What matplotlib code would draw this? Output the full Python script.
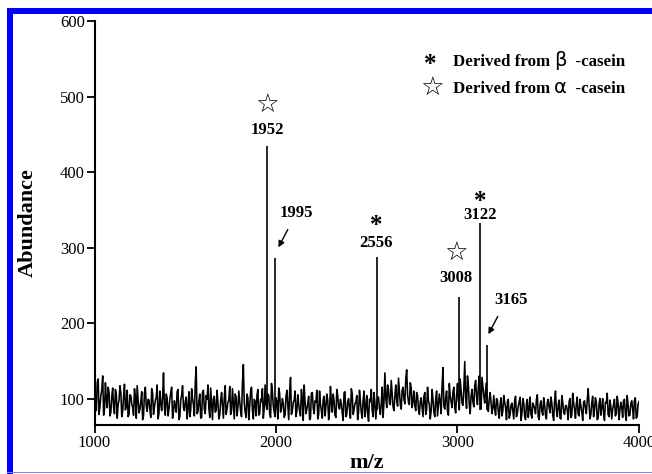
import numpy as np
import matplotlib
matplotlib.use('Agg')
import matplotlib.pyplot as plt
from matplotlib.patches import Rectangle

plt.rcParams['font.family'] = ['Liberation Serif', 'DejaVu Serif']

noise_a = [
    118, 84, 126, 90, 112, 78, 121, 88, 108, 82,
    114, 80, 106, 92, 117, 76, 103, 85, 111, 79,
    104, 88, 113, 74, 100, 86, 109, 77, 115, 83,
    98, 75, 107, 89, 102, 73, 110, 84, 134, 78,
    101, 86, 108, 74, 97, 82, 112, 76, 104, 88,
    96, 73, 109, 85, 100, 77, 142, 83, 106, 75,
    111, 80, 99, 87, 114, 72, 103, 84, 95, 78,
    108, 74, 117, 86, 98, 79, 113, 73, 102, 88,
    97, 76, 145, 82, 106, 72, 110, 85, 99, 77,
    112, 80, 96, 74, 118, 86, 104, 75, 109, 82,
    101, 73, 107, 87, 94, 78, 111, 72, 128, 84,
    98, 76, 105, 83, 112, 71, 96, 86, 103, 74,
    108, 80, 95, 73, 110, 84, 99, 77, 106, 72,
    116, 82, 97, 75, 104, 86, 93, 71, 109, 79,
    100, 74, 107, 85, 95, 72, 111, 81, 98, 76,
    104, 70, 96, 84, 108, 73, 101, 87, 93, 75,
    134, 88, 112, 92, 106, 84, 118, 90, 109, 86,
    115, 93, 138, 95, 121, 88, 110, 84, 104, 79,
    101, 76, 108, 85, 97, 73, 112, 82, 99, 77,
    106, 80, 141, 86, 110, 78, 103, 88, 115, 81,
    120, 85, 109, 91, 149, 87, 118, 80, 112, 89,
    124, 92, 130, 86, 116, 94, 121, 83, 108, 80,
    104, 78, 98, 74, 101, 84, 95, 72, 99, 79,
    94, 73, 103, 81, 96, 71, 100, 77, 93, 75,
    102, 74, 91, 80, 105, 72, 97, 78, 92, 73,
    99, 81, 94, 71, 110, 76, 98, 73, 95, 79,
    91, 72, 100, 78, 94, 74, 102, 77, 90, 71,
    97, 80, 113, 73, 95, 76, 101, 72, 93, 78,
    100, 71, 94, 79, 98, 73, 92, 77, 103, 72,
    95, 75, 99, 71, 92, 78, 97, 73, 101, 76,
    96,
]
# ... and at m/z 1005, 1015, ..., 3995
noise_b = [
    95, 122, 79, 104, 130, 86, 99, 115, 77, 103,
    89, 112, 74, 98, 108, 83, 119, 91, 76, 105,
    93, 78, 102, 117, 81, 96, 72, 107, 90, 99,
    85, 113, 79, 97, 118, 80, 93, 102, 88, 106,
    77, 99, 115, 83, 90, 109, 72, 98, 117, 84,
    102, 88, 76, 113, 92, 120, 80, 97, 74, 108,
    86, 104, 118, 75, 93, 100, 82, 111, 73, 97,
    90, 102, 79, 95, 116, 84, 92, 106, 77, 110,
    83, 121, 94, 75, 101, 89, 115, 73, 96, 104,
    78, 99, 113, 87, 92, 106, 81, 120, 90, 76,
    96, 114, 82, 100, 75, 103, 91, 109, 79, 95,
    110, 84, 93, 77, 101, 118, 80, 94, 72, 107,
    88, 97, 111, 79, 92, 74, 103, 89, 98, 83,
    94, 106, 78, 112, 89, 99, 81, 108, 76, 96,
    86, 113, 79, 93, 104, 82, 97, 74, 110, 88,
    80, 99, 112, 76, 94, 90, 102, 79, 115, 96,
    101, 118, 94, 124, 89, 103, 98, 127, 92, 111,
    99, 126, 105, 92, 114, 97, 90, 108, 86, 96,
    88, 103, 79, 115, 92, 84, 99, 76, 110, 91,
    95, 117, 90, 101, 83, 120, 96, 109, 88, 104,
    97, 126, 94, 113, 102, 130, 92, 104, 96, 117,
    103, 115, 98, 128, 104, 111, 90, 99, 95, 88,
    86, 100, 82, 93, 77, 104, 88, 96, 74, 91,
    83, 97, 76, 90, 102, 80, 95, 72, 99, 86,
    79, 94, 87, 99, 76, 92, 83, 101, 78, 95,
    88, 102, 78, 96, 85, 92, 74, 104, 82, 90,
    84, 96, 75, 107, 86, 93, 79, 99, 83, 95,
    87, 98, 92, 79, 103, 85, 96, 74, 100, 88,
    82, 95, 107, 76, 90, 86, 99, 80, 94, 85,
    89, 97, 80, 104, 77, 93, 87, 98, 74, 92,
]

peak_mz = [1952, 1995, 2556, 3008, 3122, 3165]
peak_int = [434, 286, 287, 235, 332, 171]

mz = np.concatenate([1000 + 10 * np.arange(len(noise_a)),
                     1005 + 10 * np.arange(len(noise_b))])
inten = np.concatenate([noise_a, noise_b])
order = np.argsort(mz)
mz, inten = mz[order], inten[order]

fig = plt.figure(figsize=(6.52, 4.74), dpi=100)
ax = fig.add_axes([0.145, 0.1034, 0.835, 0.8523])

ax.plot(mz, inten, color='black', lw=1.15)
ax.vlines(peak_mz, 85, peak_int, color='black', lw=1.2)

ax.set_xlim(1000, 4000)
ax.set_ylim(65, 600)
ax.set_xticks([1000, 2000, 3000, 4000])
ax.set_yticks([100, 200, 300, 400, 500, 600])
for s in ['top', 'right']:
    ax.spines[s].set_visible(False)
for s in ['left', 'bottom']:
    ax.spines[s].set_linewidth(1.5)
ax.tick_params(direction='out', length=6, width=1.3, labelsize=12, pad=1)
ax.set_xlabel('m/z', fontsize=16, fontweight='bold', labelpad=2)
ax.set_ylabel('Abundance', fontsize=16, fontweight='bold', labelpad=16)

lab = dict(fontsize=12, fontweight='bold', ha='center', va='center')
ax.text(1950, 456, '1952', **lab)
ax.text(2110, 346, '1995', **lab)
ax.text(2551, 306, '2556', **lab)
ax.text(2992, 260, '3008', **lab)
ax.text(3124, 343, '3122', **lab)
ax.text(3295, 231, '3165', **lab)

star = dict(fontsize=19, ha='center', va='center', family='DejaVu Sans')
ax.text(1950, 487, '\u2606', **star)
ax.text(2992, 291, '\u2606', **star)
ast = dict(fontsize=18, fontweight='bold', ha='center', va='center')
ax.text(2551, 329, '*', **ast)
ax.text(3124, 361, '*', **ast)

arr = dict(arrowstyle='-|>', color='black', lw=1, mutation_scale=9)
ax.annotate('', xy=(2006, 297), xytext=(2072, 327), arrowprops=arr)
ax.annotate('', xy=(3163, 182), xytext=(3229, 212), arrowprops=arr)

# legend
ax.text(2850, 542, '*', **ast)
ax.text(2860, 510, '\u2606', **star)
leg = dict(fontsize=12.2, fontweight='bold')
t1 = ax.text(2975, 546, 'Derived from ', va='center', **leg)
g1 = ax.annotate('\u03b2', xy=(1, 0), xycoords=t1, va='bottom', fontsize=14, family='DejaVu Sans')
ax.annotate('  -casein', xy=(1, 0), xycoords=g1, va='bottom', **leg)
t2 = ax.text(2975, 510, 'Derived from ', va='center', **leg)
g2 = ax.annotate('\u03b1', xy=(1, 0), xycoords=t2, va='bottom', fontsize=14, family='DejaVu Sans')
ax.annotate('  -casein', xy=(1, 0), xycoords=g2, va='bottom', **leg)

# blue frame
W, H = 652, 474
fig.add_artist(Rectangle((7 / W, 1 - 14 / H), 1, 6 / H, transform=fig.transFigure,
                         color='#0000ff', lw=0))
fig.add_artist(Rectangle((7 / W, 0), 6 / W, 1 - 8 / H, transform=fig.transFigure,
                         color='#0000ff', lw=0))
fig.add_artist(Rectangle((7 / W, 1 / H), 1, 1 / H, transform=fig.transFigure,
                         color='#8080ff', lw=0))

fig.savefig('out.png', dpi=100)
